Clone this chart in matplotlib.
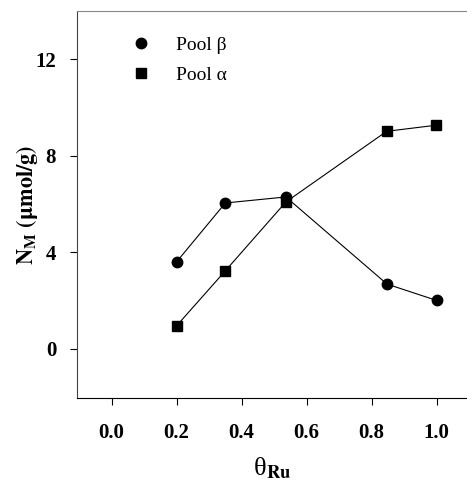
import matplotlib
matplotlib.use('Agg')
import matplotlib.pyplot as plt
from matplotlib.lines import Line2D

plt.rcParams['font.family'] = 'Liberation Serif'
plt.rcParams['mathtext.fontset'] = 'stix'

# data
theta_beta = [0.2, 0.35, 0.536, 0.847, 1.0]
pool_beta = [3.61, 6.05, 6.30, 2.69, 2.01]
theta_alpha = [0.2, 0.35, 0.536, 0.846, 0.997]
pool_alpha = [0.96, 3.24, 6.09, 9.02, 9.27]

xticks = [0.0, 0.2, 0.4, 0.6, 0.8, 1.0]
yticks = [0, 4, 8, 12]

fig = plt.figure(figsize=(4.67, 4.83), dpi=100)
ax = fig.add_axes([0.165, 0.176, 0.835, 0.801])

ax.plot(theta_beta, pool_beta, color='black', lw=0.8, marker='o', ms=7.5)
ax.plot(theta_alpha, pool_alpha, color='black', lw=0.8, marker='s', ms=6.5)

ax.set_xlim(-0.106, 1.093)
ax.set_ylim(-2.03, 14.0)
ax.set_xticks(xticks)
ax.set_xticklabels(['%.1f' % t for t in xticks])
ax.set_yticks(yticks)
ax.set_yticklabels([str(t) for t in yticks])

for lab in ax.get_xticklabels() + ax.get_yticklabels():
    lab.set_fontweight('bold')
    lab.set_fontsize(15)

ax.tick_params(axis='x', direction='out', length=5, width=0.8, pad=13)
ax.tick_params(axis='y', direction='out', length=5, width=0.8, pad=10)
ax.spines['right'].set_visible(False)
ax.spines['top'].set_color('#888888')
ax.spines['left'].set_color('#444444')

ax.set_xlabel(r'θ$_{\mathbf{Ru}}$', fontsize=19, labelpad=9)
ax.set_ylabel(r'$\mathbf{N_M}$ $\mathbf{(\mu mol/g)}$', fontsize=16, labelpad=-3)

handles = [Line2D([], [], color='black', marker='o', ms=7.5, ls='none'),
           Line2D([], [], color='black', marker='s', ms=6.5, ls='none')]
ax.legend(handles, ['Pool β', 'Pool α'], loc='upper left', bbox_to_anchor=(0.07, 0.98),
          frameon=False, fontsize=14, handletextpad=0.8, labelspacing=0.65)

fig.savefig('out.png', dpi=100)
